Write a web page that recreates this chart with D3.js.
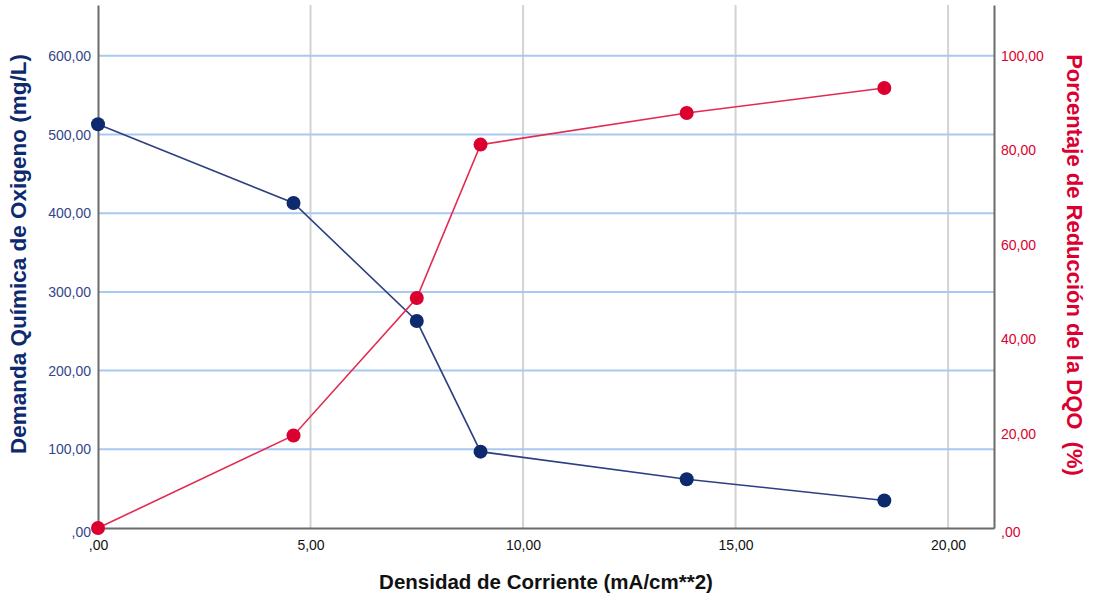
<!DOCTYPE html>
<html>
<head>
<meta charset="utf-8">
<script src="https://cdn.jsdelivr.net/npm/d3@7"></script>
<style>
body { margin: 0; background: #fff; }
svg { display: block; font-family: Arial, "Liberation Sans", sans-serif; }
</style>
</head>
<body>
<div id="drawArea"></div>
<script>
// data
var densidad = [0, 4.6, 7.5, 9.0, 13.85, 18.5];
var dqo = [513, 413, 263, 97, 62, 35];
var reduccion = [0, 19.6, 48.7, 81.2, 87.9, 93.2];
var xTicks = [0, 5, 10, 15, 20];
var leftTicks = [0, 100, 200, 300, 400, 500, 600];
var rightTicks = [0, 20, 40, 60, 80, 100];

var width = 1093, height = 599;
var m = { left: 98, right: 994, top: 5, bottom: 528 };

var blue = '#0e2a6f', blueLine = '#2c3f82', blueText = '#34468a';
var red = '#db0030', redLine = '#e32a50';

function fmt(v) {
	if (v === 0) return ',00';
	return d3.format('.2f')(v).replace('.', ',');
}

var x = d3.scaleLinear().domain([0, 21.08]).range([m.left, m.right]);
var yL = d3.scaleLinear().domain([0, 664.6]).range([m.bottom, m.top]);
var yR = d3.scaleLinear().domain([0, 110.77]).range([m.bottom, m.top]);

var svg = d3.select('#drawArea').append('svg')
	.attr('width', width)
	.attr('height', height);

// grid
svg.append('g').selectAll('line').data(xTicks.slice(1)).enter().append('line')
	.attr('x1', function(d){ return x(d); })
	.attr('x2', function(d){ return x(d); })
	.attr('y1', m.top).attr('y2', m.bottom)
	.attr('stroke', '#d3d3d3').attr('stroke-width', 2);

svg.append('g').selectAll('line').data(leftTicks.slice(1)).enter().append('line')
	.attr('x1', m.left).attr('x2', m.right)
	.attr('y1', function(d){ return yL(d); })
	.attr('y2', function(d){ return yL(d); })
	.attr('stroke', '#a9c9f0').attr('stroke-width', 2);

// axes
var axX = svg.append('g').attr('transform', 'translate(0,' + m.bottom + ')')
	.call(d3.axisBottom(x).tickValues(xTicks).tickFormat(fmt).tickSize(0).tickPadding(12));
var axL = svg.append('g').attr('transform', 'translate(' + m.left + ',0)')
	.call(d3.axisLeft(yL).tickValues(leftTicks).tickFormat(fmt).tickSize(0).tickPadding(7));
var axR = svg.append('g').attr('transform', 'translate(' + m.right + ',0)')
	.call(d3.axisRight(yR).tickValues(rightTicks).tickFormat(fmt).tickSize(0).tickPadding(7));

[axX, axL, axR].forEach(function(a){
	a.attr('font-size', 14).attr('font-family', 'Arial, "Liberation Sans", sans-serif');
	a.select('.domain').attr('stroke', '#6b6b6b').attr('stroke-width', 2);
});
axX.selectAll('text').attr('fill', '#111');
axL.selectAll('text').attr('fill', blueText);
axR.selectAll('text').attr('fill', red);
axL.selectAll('.tick').filter(function(d){ return d === 0; }).select('text').attr('dy', '0.6em');
axR.selectAll('.tick').filter(function(d){ return d === 0; }).select('text').attr('dy', '0.6em');

// series
var idx = d3.range(densidad.length);
var lineL = d3.line().x(function(i){ return x(densidad[i]); }).y(function(i){ return yL(dqo[i]); });
var lineR = d3.line().x(function(i){ return x(densidad[i]); }).y(function(i){ return yR(reduccion[i]); });

svg.append('path').datum(idx).attr('d', lineL)
	.attr('fill', 'none').attr('stroke', blueLine).attr('stroke-width', 1.6);
svg.append('path').datum(idx).attr('d', lineR)
	.attr('fill', 'none').attr('stroke', redLine).attr('stroke-width', 1.6);

svg.append('g').selectAll('circle').data(idx).enter().append('circle')
	.attr('cx', function(i){ return x(densidad[i]); })
	.attr('cy', function(i){ return yL(dqo[i]); })
	.attr('r', 7).attr('fill', blue);
svg.append('g').selectAll('circle').data(idx).enter().append('circle')
	.attr('cx', function(i){ return x(densidad[i]); })
	.attr('cy', function(i){ return yR(reduccion[i]); })
	.attr('r', 7).attr('fill', red);

// titles
svg.append('text')
	.attr('x', 546).attr('y', 589)
	.attr('text-anchor', 'middle')
	.attr('font-size', 20.5).attr('font-weight', 'bold').attr('fill', '#111')
	.text('Densidad de Corriente (mA/cm**2)');

svg.append('text')
	.attr('transform', 'translate(26,254) rotate(-90)')
	.attr('text-anchor', 'middle')
	.attr('font-size', 22.5).attr('font-weight', 'bold').attr('fill', blue)
	.text('Demanda Química de Oxigeno (mg/L)');

svg.append('text')
	.attr('transform', 'translate(1067,265) rotate(90)')
	.attr('text-anchor', 'middle')
	.attr('font-size', 22).attr('font-weight', 'bold').attr('fill', red)
	.style('white-space', 'pre')
	.text('Porcentaje de Reducción de la DQO  (%)');
</script>
</body>
</html>
